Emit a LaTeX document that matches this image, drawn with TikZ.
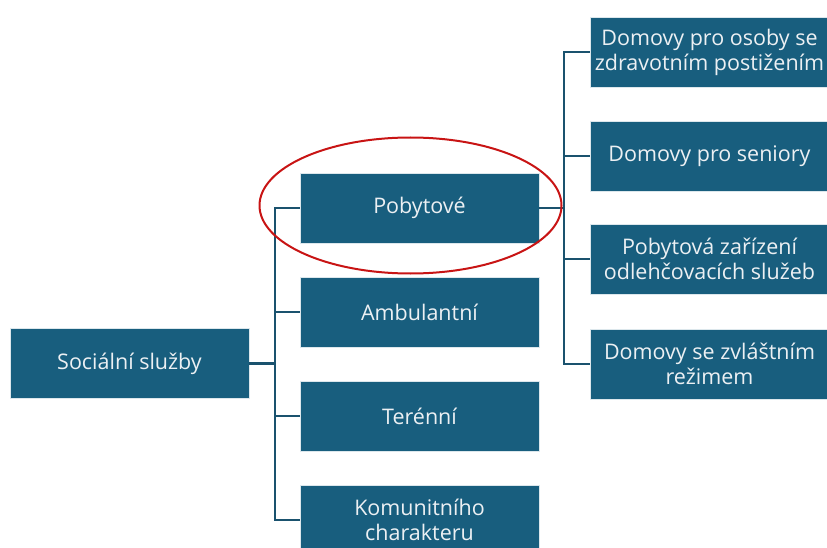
\documentclass[tikz,border=0pt]{standalone}
\usepackage{fontspec}
\usetikzlibrary{shapes.geometric}
\setmainfont{Open Sans}
\definecolor{boxfill}{RGB}{24,94,126}
\definecolor{linec}{RGB}{26,82,110}
\definecolor{txt}{RGB}{236,240,243}
\definecolor{ring}{RGB}{200,20,20}
\begin{document}
\begin{tikzpicture}[x=1pt,y=-1pt,
  box/.style={draw=white!85!boxfill,line width=0.8pt,fill=boxfill,minimum width=239pt,minimum height=70pt,inner sep=0pt,text=txt,align=center,font=\fontsize{21.5}{25}\selectfont},
  conn/.style={draw=linec,line width=2.6pt}]
\useasboundingbox (0,0) rectangle (827,548);
\node[box] (root) at (129.5,363.5) {Sociální služby};
\node[box] (pob) at (419.5,208) {Pobytové};
\node[box] (amb) at (419.5,312) {Ambulantní};
\node[box] (ter) at (419.5,416) {Terénní};
\node[box] (kom) at (419.5,520) {Komunitního\\charakteru};
\node[box] (d1) at (709.5,52) {Domovy pro osoby se\\zdravotním postižením};
\node[box] (d2) at (709.5,156) {Domovy pro seniory};
\node[box] (d3) at (709.5,259) {Pobytová zařízení\\odlehčovacích služeb};
\node[box] (d4) at (709.5,364) {Domovy se zvláštním\\režimem};
\coordinate (t1) at (275,0);
\coordinate (t2) at (564,0);
\draw[conn] (root.east) -- (root.east -| t1);
\draw[conn] (pob.west) -- (pob.west -| t1) -- (kom.west -| t1) -- (kom.west);
\draw[conn] (amb.west) -- (amb.west -| t1);
\draw[conn] (ter.west) -- (ter.west -| t1);
\draw[conn] (pob.east) -- (pob.east -| t2);
\draw[conn] (d1.west) -- (d1.west -| t2) -- (d4.west -| t2) -- (d4.west);
\draw[conn] (d2.west) -- (d2.west -| t2);
\draw[conn] (d3.west) -- (d3.west -| t2);
\node[draw=ring,line width=2pt,ellipse,minimum width=302pt,minimum height=136pt,inner sep=0pt] (ring) at (410.5,205.5) {};
\end{tikzpicture}
\end{document}
